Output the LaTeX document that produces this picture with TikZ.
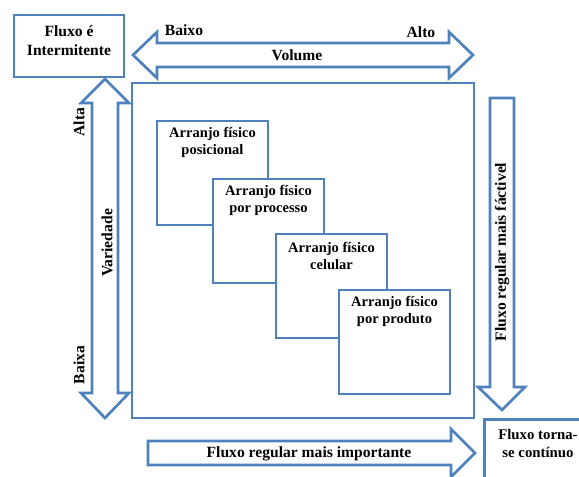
\documentclass[tikz,border=0pt]{standalone}
\usepackage{fontspec}
\setmainfont{Liberation Serif}
\definecolor{frame}{RGB}{79,129,189}
\begin{document}
\begin{tikzpicture}[x=1pt,y=-1pt,
  edge/.style={draw=frame, line width=2.7pt, line join=miter},
  blockarrow/.style={edge, fill=white},
  card/.style={edge, fill=white, rectangle, inner sep=0pt,
    minimum width=111pt, minimum height=104pt},
  lbl/.style={font=\bfseries\fontsize{14.5}{17}\selectfont, align=center, inner sep=0pt},
  biglbl/.style={lbl, font=\bfseries\fontsize{15.6}{19}\selectfont},
  vlbl/.style={biglbl, rotate=90}]
\useasboundingbox (0,0) rectangle (579,477);

% outer frame holding the four layouts
\node[edge, rectangle, inner sep=0pt, minimum width=342pt, minimum height=335pt] (frameBox) at (303,250.5) {};

% the four layout types, stepping down to the right
\node[card] (pos) at (212.5,173) {};
\node[lbl] (posT) at (212.5,142.5) {Arranjo físico\\posicional};
\node[card] (proc) at (268.5,231) {};
\node[lbl] (procT) at (268.5,200.5) {Arranjo físico\\por processo};
\node[card] (cel) at (331.5,286) {};
\node[lbl] (celT) at (331.5,255.5) {Arranjo físico\\celular};
\node[card] (prod) at (394.5,342) {};
\node[lbl] (prodT) at (394.5,311.5) {Arranjo físico\\por produto};

% corner boxes
\node[edge, rectangle, inner sep=0pt, minimum width=110pt, minimum height=62pt] (interm) at (69,46) {};
\node[biglbl] (intermT) at (69,40.5) {Fluxo é\\Intermitente};
\node[edge, rectangle, inner sep=0pt, minimum width=130pt, minimum height=90pt, anchor=north west] (cont) at (483,418) {};
\node[lbl, font=\bfseries\fontsize{14.8}{17.5}\selectfont] (contT) at (538,443.5) {Fluxo torna-\\se contínuo};

% volume axis (double block arrow)
\draw[blockarrow] (133,55) -- (157,32) -- (157,43) -- (449,43) -- (449,32) -- (473,55)
  -- (449,78) -- (449,67) -- (157,67) -- (157,78) -- cycle;
\node[biglbl] (baixoT) at (184,30) {Baixo};
\node[biglbl] (altoT) at (421,32) {Alto};
\node[biglbl] (volT) at (297,55) {Volume};

% variety axis (double block arrow)
\draw[blockarrow] (105,79) -- (129,103) -- (118,103) -- (118,393) -- (129,393) -- (105,418)
  -- (81,393) -- (92,393) -- (92,103) -- (81,103) -- cycle;
\node[vlbl] (altaT) at (79,122) {Alta};
\node[vlbl] (baixaT) at (79,365) {Baixa};
\node[vlbl] (varT) at (107,243) {Variedade};

% flow arrows
\draw[blockarrow] (490,98) -- (514,98) -- (514,387) -- (525,387) -- (502,410)
  -- (478,387) -- (490,387) -- cycle;
\node[vlbl] (viavelT) at (502,252) {Fluxo regular mais  fáctivel};
\draw[blockarrow] (148,441) -- (451,441) -- (451,429) -- (475,453) -- (451,477)
  -- (451,465) -- (148,465) -- cycle;
\node[biglbl] (impT) at (309,454) {Fluxo regular mais importante};
\end{tikzpicture}
\end{document}
